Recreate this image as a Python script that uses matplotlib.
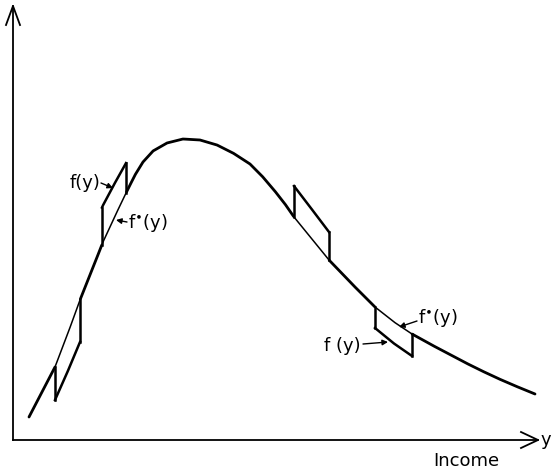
import matplotlib.pyplot as plt
import numpy as np

# density curve (pixel coords, y downwards)
curve_x = [29, 42, 55, 68, 80, 92, 103, 115, 127, 135, 143, 153, 167, 183,
           200, 217, 233, 250, 262, 274, 285, 294, 312, 329, 352, 375, 394,
           412, 430, 447, 464, 480, 497, 513, 535]
curve_y = [417, 392, 367, 333, 300, 270, 242, 216, 191, 175, 162, 151, 143, 139,
           140, 145, 153, 164, 176, 190, 204, 217, 239, 260, 284, 307, 322,
           334, 344, 353, 362, 370, 378, 385, 394]

# shifted slices: left/right edge x, vertical shift at left/right edge (px)
box_x0 = [55, 102, 294, 375]
box_x1 = [80, 126, 329, 412]
box_dy0 = [33, -37, -31, 21]
box_dy1 = [42, -30, -28, 22]

labels = ["f(y)", r"f$^{\bullet}$(y)", r"f$^{\bullet}$(y)", "f (y)"]
label_xy = [(100, 183), (128, 223), (418, 318), (361, 346)]
arrow_from = [(101, 183), (127, 222), (417, 321), (363, 344)]
arrow_to = [(113, 188), (116, 220), (399, 327), (388, 342)]

fig = plt.figure(figsize=(5.51, 4.71), dpi=100)
ax = fig.add_axes([0, 0, 1, 1])
ax.set_xlim(0, 551)
ax.set_ylim(471, 0)
ax.axis("off")

# axes with open arrow heads
ax.plot([13, 13], [440, 6], color="black", lw=1.3)
ax.plot([13, 538], [440, 440], color="black", lw=1.3)
ax.plot([6, 13, 20], [25, 6, 25], color="black", lw=1.3)
ax.plot([521, 538, 521], [432, 440, 448], color="black", lw=1.3)
ax.text(541, 440, "y", fontsize=13, va="center", ha="left")
ax.text(466, 461, "Income", fontsize=13, va="center", ha="center")

cx = np.array(curve_x, dtype=float)
cy = np.array(curve_y, dtype=float)
xs = np.linspace(cx[0], cx[-1], 800)
ys = np.interp(xs, cx, cy)

inside = np.zeros_like(xs, dtype=bool)
for x0, x1 in zip(box_x0, box_x1):
    inside |= (xs > x0) & (xs < x1)

ax.plot(xs, np.where(inside, np.nan, ys), color="black", lw=2.0,
        solid_capstyle="round", solid_joinstyle="round")
ax.plot(xs, np.where(inside, ys, np.nan), color="black", lw=1.1)

for x0, x1, d0, d1 in zip(box_x0, box_x1, box_dy0, box_dy1):
    seg = (xs >= x0) & (xs <= x1)
    bx = np.concatenate([[x0], xs[seg], [x1]])
    by = np.interp(bx, cx, cy)
    dy = d0 + (d1 - d0) * (bx - x0) / (x1 - x0)
    ax.plot(bx, by + dy, color="black", lw=1.8)
    ax.plot([x0, x0], [by[0], by[0] + d0], color="black", lw=1.8)
    ax.plot([x1, x1], [by[-1], by[-1] + d1], color="black", lw=1.8)

for lab, (tx, ty), p0, p1 in zip(labels, label_xy, arrow_from, arrow_to):
    ha = "right" if p0[0] < p1[0] else "left"
    ax.text(tx, ty, lab, fontsize=13, va="center", ha=ha)
    ax.annotate("", xy=p1, xytext=p0,
                arrowprops=dict(arrowstyle="-|>", color="black", lw=1.0,
                                mutation_scale=8, shrinkA=0, shrinkB=0))

fig.savefig("out.png", dpi=100)
